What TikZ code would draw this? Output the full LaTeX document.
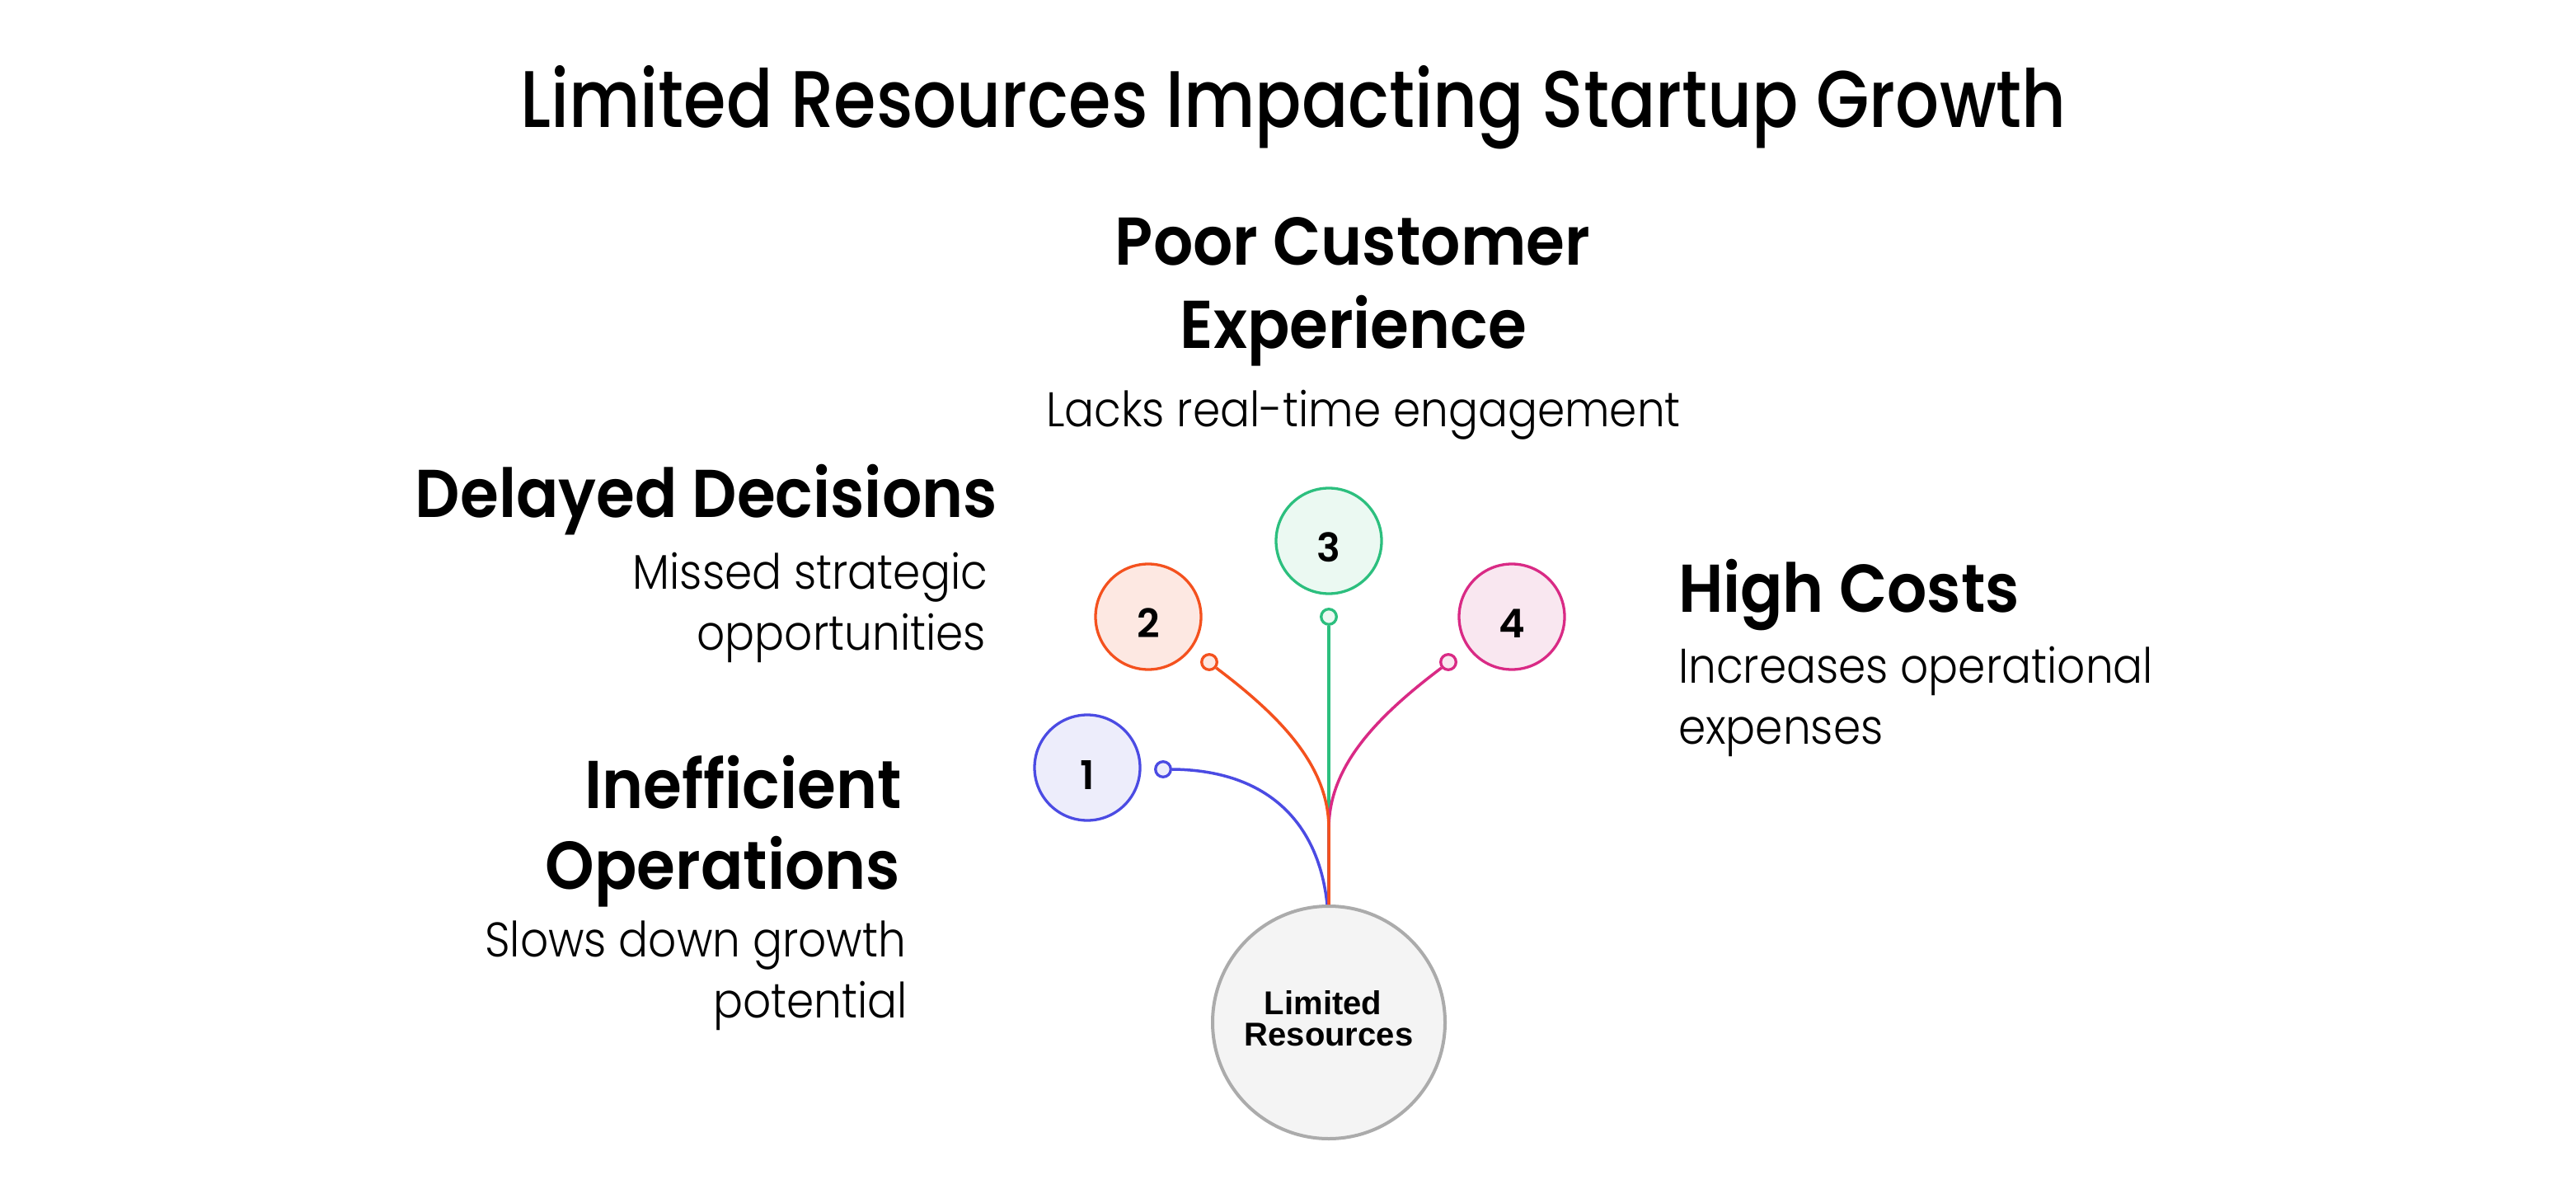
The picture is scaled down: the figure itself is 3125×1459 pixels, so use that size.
\documentclass[tikz,border=0pt]{standalone}
\usepackage{fontspec}
\setmainfont{Poppins}
\IfFontExistsTF{Poppins Medium}{\newfontfamily\titlefont{Poppins Medium}[FakeStretch=0.855]}{\newfontfamily\titlefont{Poppins}[FakeStretch=0.855]}
\IfFontExistsTF{Poppins SemiBold}{\newfontfamily\headfont{Poppins SemiBold}[FakeStretch=0.925]\newfontfamily\digfont{Poppins SemiBold}}{\newfontfamily\headfont{Poppins Bold}[FakeStretch=0.925]\newfontfamily\digfont{Poppins Bold}}
\IfFontExistsTF{Poppins Light}{\newfontfamily\bodyfont{Poppins Light}[FakeStretch=0.905]}{\newfontfamily\bodyfont{Poppins}[FakeStretch=0.905]}
\newfontfamily\arialfont{Liberation Sans}
\definecolor{bluS}{HTML}{4B4BE3}\definecolor{bluF}{HTML}{EDEDFB}
\definecolor{oraS}{HTML}{F4511E}\definecolor{oraF}{HTML}{FDE8E2}
\definecolor{greS}{HTML}{2CBF7E}\definecolor{greF}{HTML}{EBF9F2}
\definecolor{pinS}{HTML}{D92A85}\definecolor{pinF}{HTML}{F9E7F0}
\definecolor{grayS}{HTML}{ABABAB}\definecolor{grayF}{HTML}{F4F4F4}
\begin{document}
\begin{tikzpicture}[x=0.5pt,y=-0.5pt,
  numc/.style 2 args={circle, minimum size=64pt, inner sep=0pt, line width=1.65pt, draw=#1, fill=#2},
  dotc/.style 2 args={circle, minimum size=9.3pt, inner sep=0pt, line width=1.65pt, draw=#1, fill=#2},
  link/.style={line width=1.75pt, draw=#1},
  txt/.style={inner sep=0pt, outer sep=0pt},
  ttl/.style={txt, font=\titlefont\fontsize{48.7}{58}\selectfont},
  hd/.style={txt, font=\headfont\fontsize{41}{50}\selectfont},
  bd/.style={txt, font=\bodyfont\fontsize{29.5}{36}\selectfont},
  dig/.style={txt, font=\digfont\fontsize{24}{28}\selectfont},
  ctr/.style={txt, font=\arialfont\bfseries\fontsize{20}{19}\selectfont}]
\useasboundingbox (0,0) rectangle (3125,1459);
\fill[white] (0,0) rectangle (3125,1459);

% title
\node[ttl, anchor=base] (title) at (1569,155) {Limited Resources Impacting Startup Growth};

% circles
\node[circle, minimum size=141pt, inner sep=0pt, line width=2pt, draw=grayS, fill=grayF] (lr) at (1612,1240) {};
\node[numc={bluS}{bluF}] (c1) at (1319,931) {};
\node[numc={oraS}{oraF}] (c2) at (1393,748) {};
\node[numc={greS}{greF}] (c3) at (1612,656) {};
\node[numc={pinS}{pinF}] (c4) at (1834,748) {};

\node[dig] (d1) at ([yshift=-4.5pt]c1.center) {1};
\node[dig] (d2) at ([yshift=-4pt]c2.center) {2};
\node[dig] (d3) at ([yshift=-4pt]c3.center) {3};
\node[dig] (d4) at ([yshift=-4pt]c4.center) {4};

\node[ctr, anchor=base] (lrt1) at (1605,1230) {Limited};
\node[ctr, anchor=base] (lrt2) at (1612,1268) {Resources};

% small end dots
\node[dotc={bluS}{bluF}] (s1) at (1411,933) {};
\node[dotc={oraS}{oraF}] (s2) at (1467,803) {};
\node[dotc={greS}{greF}] (s3) at (1612,748) {};
\node[dotc={pinS}{pinF}] (s4) at (1757,803) {};

% junction where the side branches become vertical
\coordinate (jn) at (1612,1005);

% connectors
\draw[link=greS] (s3.south) -- (lr.north);
\draw[link=bluS] (s1.east) .. controls (1540,934) and (1600,1000) .. ([xshift=-1pt]lr.north);
\draw[link=pinS] (s4.220) .. controls (1669,870) and (1612,930) .. (jn) -- (lr.north);
\draw[link=oraS] (s2.-40) .. controls (1555,870) and (1612,930) .. (jn) -- (lr.north);

% Poor Customer Experience
\node[hd, anchor=base] (h3a) at (1641,322) {Poor Customer};
\node[hd, anchor=base] (h3b) at (1642,423) {Experience};
\node[bd, anchor=base] (b3) at (1654,518) {Lacks real-time engagement};

% Delayed Decisions
\node[hd, anchor=base east] (h2) at (1210,628) {Delayed Decisions};
\node[bd, anchor=base east] (b2a) at (1198,714) {Missed strategic};
\node[bd, anchor=base east] (b2b) at (1196,788) {opportunities};

% Inefficient Operations
\node[hd, anchor=base east] (h1a) at (1094,980) {Inefficient};
\node[hd, anchor=base east] (h1b) at (1092,1078) {Operations};
\node[bd, anchor=base east] (b1a) at (1099,1160) {Slows down growth};
\node[bd, anchor=base east] (b1b) at (1101,1234) {potential};

% High Costs
\node[hd, anchor=base west] (h4) at (2036,742) {High Costs};
\node[bd, anchor=base west] (b4a) at (2036,828) {Increases operational};
\node[bd, anchor=base west] (b4b) at (2036,902) {expenses};
\end{tikzpicture}
\end{document}
